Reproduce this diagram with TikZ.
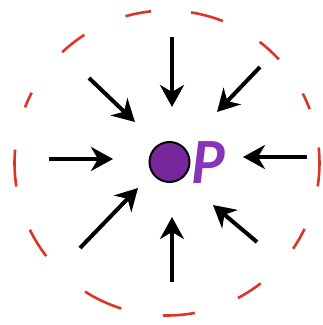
\documentclass[tikz,border=0pt]{standalone}
\usepackage{fontspec}
\usetikzlibrary{arrows.meta}
\newfontfamily\pfont{Lato}
\definecolor{dotpurple}{RGB}{120,38,155}
\definecolor{ppurple}{RGB}{134,52,184}
\definecolor{dashred}{RGB}{222,52,38}
\tikzset{
  arr/.style={line width=4pt,-{Stealth[length=22pt,width=24pt,inset=7pt]}},
  ring/.style={draw=dashred,line width=2.6pt},
  dot/.style={circle,draw=black,line width=2pt,fill=dotpurple,minimum size=40pt,inner sep=0pt},
  plabel/.style={text=ppurple,inner sep=0pt,font=\pfont\bfseries\itshape\fontsize{58}{58}\selectfont}
}
\begin{document}
\begin{tikzpicture}[x=1pt,y=1pt]
\useasboundingbox (0,0) rectangle (323,325);
\coordinate (c) at (167,162);
\foreach \a/\l in {-1.5/39, 23.9/17, 47.7/26, 74.7/33, 100.9/26, 128.1/28, 155.6/16,
                   181.9/37, 211.8/31, 245/40, 274.5/32, 302.8/27, 330.1/23} {
  \pgfmathsetmacro{\h}{\l*0.1879}
  \draw[ring] (c) ++(\a-\h:152.5) arc[start angle=\a-\h, delta angle=2*\h, radius=152.5];
}
\node[dot] (pt) at (169.5,163) {};
\node[plabel] (plab) at (208,162) {P};
\coordinate (ts) at (172,288); \coordinate (te) at (172,218);
\coordinate (bs) at (172,43);  \coordinate (be) at (172,108);
\coordinate (ls) at (49,166);  \coordinate (le) at (113,166);
\coordinate (rs) at (307,168); \coordinate (re) at (243,168);
\coordinate (uls) at (89,247); \coordinate (ule) at (135,203);
\coordinate (urs) at (260,258); \coordinate (ure) at (217,213);
\coordinate (lls) at (80,77);  \coordinate (lle) at (138,137);
\coordinate (lrs) at (257,83); \coordinate (lre) at (213,120);
\draw[arr] (ts) -- (te);
\draw[arr] (bs) -- (be);
\draw[arr] (ls) -- (le);
\draw[arr] (rs) -- (re);
\draw[arr] (uls) -- (ule);
\draw[arr] (urs) -- (ure);
\draw[arr] (lls) -- (lle);
\draw[arr] (lrs) -- (lre);
\end{tikzpicture}
\end{document}
